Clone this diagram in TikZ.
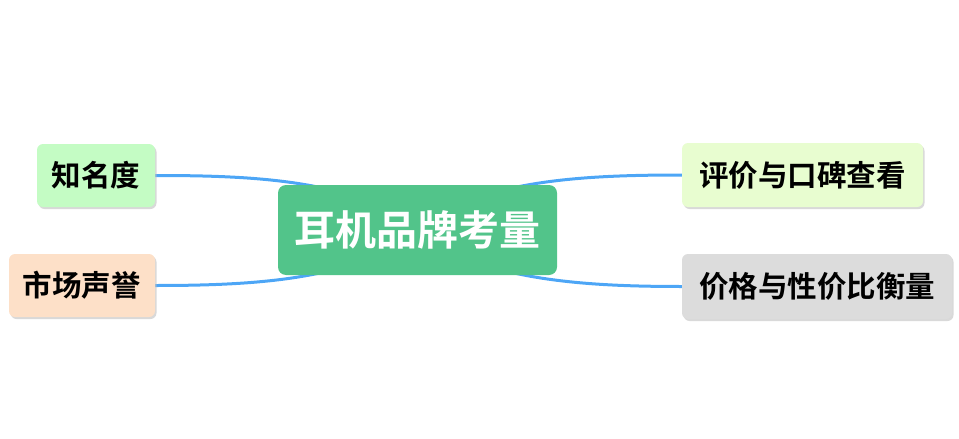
\documentclass[tikz,border=0pt]{standalone}
\usepackage{fontspec}
\newfontfamily\cjk{Noto Sans CJK SC}[BoldFont={Noto Sans CJK SC Bold}]
\usetikzlibrary{shadows,backgrounds}
\definecolor{rootgreen}{HTML}{52C48A}
\definecolor{linkblue}{HTML}{4DA6F6}
\definecolor{cA}{HTML}{C4FCC4}
\definecolor{cB}{HTML}{FDE0C8}
\definecolor{cC}{HTML}{E8FDD0}
\definecolor{cD}{HTML}{DCDCDC}
\tikzset{
  leaf/.style={rounded corners=6pt, inner sep=0pt, font=\cjk\bfseries\fontsize{29.5}{31}\selectfont,
    text=black, drop shadow={shadow xshift=1.5pt, shadow yshift=-2pt, fill=black!25, opacity=0.6}},
  rootbox/.style={rounded corners=8pt, inner sep=0pt, fill=rootgreen, text=white,
    font=\cjk\bfseries\fontsize{41}{44}\selectfont},
  link/.style={draw=linkblue, line width=3pt}
}
\begin{document}
\begin{tikzpicture}[x=1pt,y=-1pt]
\useasboundingbox (0,0) rectangle (959,439);
\node[rootbox, minimum width=279pt, minimum height=90pt] (root) at (417.5,230) {耳机品牌考量};
\node[leaf, fill=cA, minimum width=118pt, minimum height=63pt] (a) at (96,175.5) {知名度};
\node[leaf, fill=cB, minimum width=146pt, minimum height=63pt] (b) at (82,285.5) {市场声誉};
\node[leaf, fill=cC, minimum width=241pt, minimum height=64pt] (c) at (802.5,175) {评价与口碑查看};
\node[leaf, fill=cD, minimum width=270pt, minimum height=65pt] (d) at (817,286.5) {价格与性价比衡量};
\begin{scope}[on background layer]
\draw[link] (root.center) .. controls +(-60,-50) and +(100,0) .. (a.east);
\draw[link] (root.center) .. controls +(-60,50) and +(100,0) .. (b.east);
\draw[link] (root.center) .. controls +(60,-50) and +(-100,0) .. (c.west);
\draw[link] (root.center) .. controls +(60,50) and +(-100,0) .. (d.west);
\end{scope}
\end{tikzpicture}
\end{document}
